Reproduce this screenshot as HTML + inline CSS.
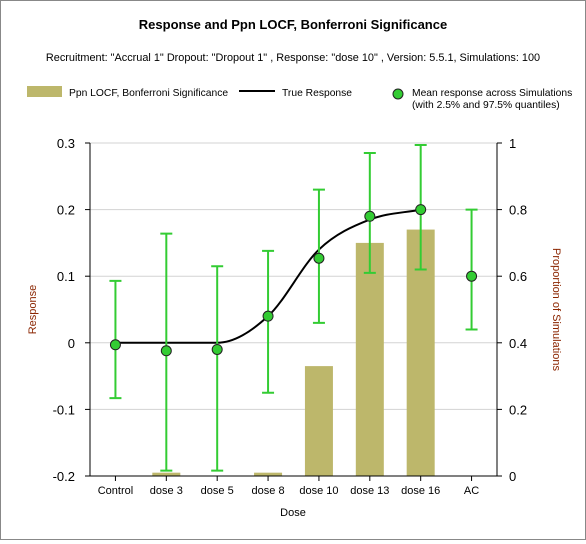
<!DOCTYPE html>
<html><head><meta charset="utf-8"><style>
body{margin:0;background:#fff;font-family:"Liberation Sans",sans-serif}
#wrap{position:relative;width:584px;height:538px;border:1px solid #888;background:#fff}
</style></head><body>
<div id="wrap">
<svg id="svg" width="584" height="538" xmlns="http://www.w3.org/2000/svg" font-family="Liberation Sans, sans-serif"></svg>
</div>
<script>
const categories=["Control","dose 3","dose 5","dose 8","dose 10","dose 13","dose 16","AC"];
const proportion=[0,0.01,0,0.01,0.33,0.70,0.74,0];
const trueResponse=[0,0,0,0.04,0.14,0.185,0.2];
const meanResp=[-0.003,-0.012,-0.01,0.04,0.127,0.19,0.2,0.1];
const upperQ=[0.093,0.164,0.115,0.138,0.23,0.285,0.297,0.2];
const lowerQ=[-0.083,-0.192,-0.192,-0.075,0.03,0.105,0.11,0.02];
const leftTicks=[-0.2,-0.1,0,0.1,0.2,0.3];
const rightTicks=[0,0.2,0.4,0.6,0.8,1];
const X0=89,X1=496,Y0=142,Y1=475;
const NS="http://www.w3.org/2000/svg",svg=document.getElementById('svg');
function el(t,a,txt){const e=document.createElementNS(NS,t);for(const k in a)e.setAttribute(k,a[k]);if(txt!=null)e.textContent=txt;svg.appendChild(e);return e;}
const bw=(X1-X0)/categories.length;
const xs=i=>X0+bw*(i+0.5);
const yL=v=>Y1-(v+0.2)/0.5*(Y1-Y0);
const yR=v=>Y1-v*(Y1-Y0);
let e;
e=el('text',{x:292,y:28,'text-anchor':'middle','font-size':13,'font-weight':'bold'},'Response and Ppn LOCF, Bonferroni Significance');

e=el('text',{x:292,y:60,'text-anchor':'middle','font-size':10.9},'Recruitment: "Accrual 1" Dropout: "Dropout 1" , Response: "dose 10" , Version: 5.5.1, Simulations: 100');

// legend
e=el('rect',{x:26,y:85,width:35,height:11,fill:'#bdb76b'});
el('text',{x:68,y:95,'font-size':10.3},'Ppn LOCF, Bonferroni Significance');
e=el('line',{x1:238,y1:90,x2:274,y2:90,stroke:'#000','stroke-width':2});
el('text',{x:281,y:95,'font-size':10.3},'True Response');
e=el('circle',{cx:397,cy:93,r:5,fill:'#33cc33',stroke:'#222'});
el('text',{x:411,y:95,'font-size':10.3},'Mean response across Simulations');
el('text',{x:411,y:107,'font-size':10.3},'(with 2.5% and 97.5% quantiles)');
// grid
leftTicks.forEach(t=>{const y=yL(t);
 if(t>-0.2){e=el('line',{x1:X0,y1:y,x2:X1,y2:y,stroke:'#d3d3d3'});}
 el('line',{x1:X0-5,y1:y,x2:X0,y2:y,stroke:'#000'});
 e=el('text',{x:X0-15,y:y+5,'text-anchor':'end','font-size':13},t===0?'0':t.toString());});
rightTicks.forEach(t=>{const y=yR(t);el('line',{x1:X1,y1:y,x2:X1+5,y2:y,stroke:'#000'});
 e=el('text',{x:X1+12,y:y+5,'font-size':13},t.toString());});
// bars
proportion.forEach((p,i)=>{if(p<=0)return;e=el('rect',{x:xs(i)-14,y:yR(p),width:28,height:yR(0)-yR(p),fill:'#bdb76b'});
 });
// axes
el('line',{x1:X0,y1:Y0,x2:X0,y2:Y1,stroke:'#000'});el('line',{x1:X1,y1:Y0,x2:X1,y2:Y1,stroke:'#000'});el('line',{x1:X0,y1:Y1,x2:X1,y2:Y1,stroke:'#000'});
categories.forEach((c,i)=>{el('line',{x1:xs(i),y1:Y1,x2:xs(i),y2:Y1+5,stroke:'#000'});
 e=el('text',{x:xs(i),y:Y1+18,'text-anchor':'middle','font-size':11},c);});
e=el('text',{x:292,y:515,'text-anchor':'middle','font-size':11},'Dose');
e=el('text',{x:0,y:0,'text-anchor':'middle','font-size':11,fill:'#8b2500',transform:`translate(35,${(Y0+Y1)/2}) rotate(-90)`},'Response');
e=el('text',{x:0,y:0,'text-anchor':'middle','font-size':11,fill:'#8b2500',transform:`translate(552,${(Y0+Y1)/2}) rotate(90)`},'Proportion of Simulations');
// true response: monotone cubic
const pts=trueResponse.map((v,i)=>[xs(i),yL(v)]);
const n=pts.length,sl=[],tg=[];
for(let i=0;i<n-1;i++)sl.push((pts[i+1][1]-pts[i][1])/(pts[i+1][0]-pts[i][0]));
for(let i=0;i<n;i++){if(i===0)tg.push(sl[0]);else if(i===n-1)tg.push(sl[n-2]);else tg.push(sl[i-1]*sl[i]<=0?0:(sl[i-1]+sl[i])/2);}
let d=`M${pts[0][0]},${pts[0][1]}`;
for(let i=0;i<n-1;i++){const h=(pts[i+1][0]-pts[i][0])/3;
 d+=` C${pts[i][0]+h},${pts[i][1]+tg[i]*h} ${pts[i+1][0]-h},${pts[i+1][1]-tg[i+1]*h} ${pts[i+1][0]},${pts[i+1][1]}`;}
e=el('path',{d:d,fill:'none',stroke:'#000','stroke-width':2});
e=el('circle',{cx:xs(7),cy:yL(0.1),r:5,fill:'#000'});
// error bars and means
meanResp.forEach((m,i)=>{const x=xs(i),yu=yL(upperQ[i]),yl=yL(lowerQ[i]);
 e=el('path',{d:`M${x},${yu}V${yl}M${x-6},${yu}H${x+6}M${x-6},${yl}H${x+6}`,stroke:'#33cc33','stroke-width':2,fill:'none'});
 e=el('circle',{cx:x,cy:yL(m),r:5,fill:'#33cc33',stroke:'#222'});});
</script>
</body></html>
